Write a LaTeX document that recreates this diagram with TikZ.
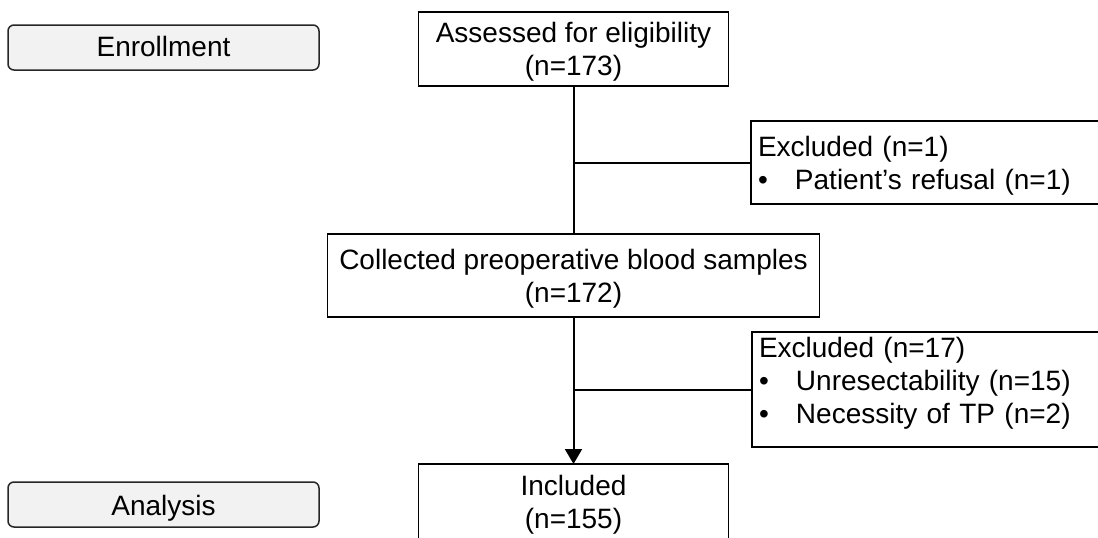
\documentclass[tikz,border=0pt]{standalone}
\usepackage{fontspec}
\setmainfont{Liberation Sans}
\usetikzlibrary{arrows.meta}
\definecolor{boxgray}{HTML}{F2F2F2}
\newcommand{\tp}[1]{\rule{0pt}{#1pt}}
\newcommand{\bt}[1]{\rule[-#1pt]{0pt}{#1pt}}
\newcommand{\bul}{\makebox[37pt][l]{\textbullet}}
\begin{document}
\begin{tikzpicture}[x=1pt,y=-1pt,
  every node/.style={font=\fontsize{28}{33}\selectfont, inner sep=0pt, outer sep=0pt},
  box/.style={draw=black, line width=1.5pt, align=center, minimum width=310},
  sidebox/.style={draw=black!85, line width=1.5pt, fill=boxgray, rounded corners=6pt,
    minimum width=311, minimum height=45},
  exbox/.style={draw=black, line width=1.5pt, anchor=west, align=left,
    text width=346, inner xsep=7pt, minimum width=360},
  conn/.style={line width=2pt}]
\useasboundingbox (0,0) rectangle (1098,538);
\fill[white] (0,0) rectangle (1098,538);

\node[sidebox] (enroll) at (163.5,47.5) {\tp{25}Enrollment\bt{6.5}};
\node[sidebox] (analysis) at (163.5,504.5) {\tp{27.5}Analysis\bt{6.5}};

\node[box, minimum height=74] (assessed) at (573.5,49)
  {\tp{25.5}Assessed for eligibility\\(n=173)\bt{6.5}};
\node[box, minimum width=492, minimum height=83] (collected) at (573.5,275.5)
  {\tp{26.5}Collected preoperative blood samples\\(n=172)\bt{6.5}};
\node[box, minimum height=78] (included) at (573.5,503)
  {\tp{23.5}Included\\(n=155)\bt{6.5}};

\node[exbox, minimum height=83] (excl1) at (751,162.5)
  {\tp{28}Excluded (n=1)\\\bul Patient’s refusal (n=1)\bt{6.5}};
\node[exbox, minimum height=115] (excl2) at (752,389.5)
  {\tp{20}Excluded (n=17)\\\bul Unresectability (n=15)\\\bul Necessity of TP (n=2)\bt{19}};

\draw[conn] (assessed.south) -- (collected.north);
\draw[conn, -{Triangle[length=15pt, width=17pt]}] (collected.south) -- (included.north);
\draw[conn] (assessed.south |- excl1.west) -- (excl1.west);
\draw[conn] (collected.south |- excl2.west) -- (excl2.west);
\end{tikzpicture}
\end{document}
